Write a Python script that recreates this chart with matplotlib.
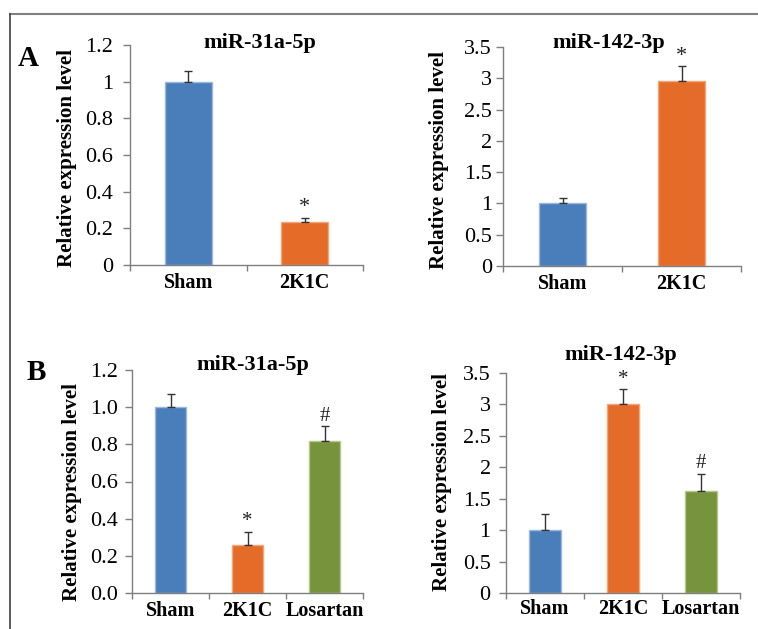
import matplotlib
matplotlib.use("Agg")
import matplotlib.pyplot as plt
import matplotlib.transforms as mtransforms
from matplotlib.lines import Line2D

plt.rcParams['font.family'] = ['Liberation Serif', 'DejaVu Serif']

W, H = 758, 629
DPI = 100

# ---- data ----
cats_a = ["Sham", "2K1C"]
cats_b = ["Sham", "2K1C", "Losartan"]

a31_vals = [1.0, 0.233]
a31_err = [0.058, 0.025]
a31_marks = ["", "*"]

a142_vals = [1.0, 2.96]
a142_err = [0.08, 0.23]
a142_marks = ["", "*"]

b31_vals = [1.0, 0.258, 0.82]
b31_err = [0.07, 0.072, 0.076]
b31_marks = ["", "*", "#"]

b142_vals = [1.0, 3.01, 1.62]
b142_err = [0.26, 0.23, 0.28]
b142_marks = ["", "*", "#"]

bar_colors = ["#4a7ebb", "#e46c28", "#77933c"]
edge_colors = ["#9bb8df", "#f2a67a", "#b3c98a"]

fig = plt.figure(figsize=(W / DPI, H / DPI), dpi=DPI)


def px_rect(x0, y0, x1, y1):
    return [x0 / W, 1 - y1 / H, (x1 - x0) / W, (y1 - y0) / H]


def fx(x):
    return x / W


def fy(y):
    return 1 - y / H


def panel(rect, cats, vals, errs, marks, ymax, ystep, yfmt, title, title_xy,
          ylab_xy, cat_y, mark_fs, ypad):
    ax = fig.add_axes(px_rect(*rect))
    n = len(cats)
    x = list(range(n))
    for i in x:
        ax.bar(i, vals[i], width=0.4, color=bar_colors[i],
               edgecolor=edge_colors[i], linewidth=1.0, zorder=2)
        ax.errorbar(i, vals[i], yerr=[[0], [errs[i]]], fmt='none',
                    ecolor='#333333', elinewidth=1.0, capsize=2.8,
                    capthick=1.0, zorder=3)
        if marks[i]:
            ax.text(i, vals[i] + errs[i] + ymax * 0.003, marks[i],
                    ha='center', va='bottom', fontsize=mark_fs,
                    color='#222222')
    ax.set_xlim(-0.5, n - 0.5)
    ax.set_ylim(0, ymax)
    ticks = []
    v = 0.0
    while v <= ymax + 1e-9:
        ticks.append(round(v, 3))
        v += ystep
    ax.set_yticks(ticks)
    ax.set_yticklabels([yfmt(t) for t in ticks], fontsize=16)
    ax.set_xticks([i - 0.5 for i in range(n + 1)])
    ax.set_xticklabels([])
    ax.tick_params(axis='x', direction='out', length=4, width=1,
                   color='#7f7f7f')
    ax.tick_params(axis='y', direction='out', length=5, width=1,
                   color='#7f7f7f', pad=ypad)
    for s in ['top', 'right']:
        ax.spines[s].set_visible(False)
    for s in ['left', 'bottom']:
        ax.spines[s].set_color('#7f7f7f')
        ax.spines[s].set_linewidth(1.0)
    tr = mtransforms.blended_transform_factory(ax.transData, fig.transFigure)
    for i, c in enumerate(cats):
        ax.text(i, fy(cat_y), c, transform=tr, ha='center', va='center',
                fontsize=14.5, fontweight='bold')
    fig.text(fx(title_xy[0]), fy(title_xy[1]), title, ha='center',
             va='center', fontsize=16, fontweight='bold')
    fig.text(fx(ylab_xy[0]), fy(ylab_xy[1]), "Relative expression level",
             rotation=90, ha='center', va='center', fontsize=15,
             fontweight='bold')
    return ax


def fmt_plain(t):
    return "%g" % t


def fmt_1dec(t):
    return "%.1f" % t


panel((130, 45, 363, 265), cats_a, a31_vals, a31_err, a31_marks, 1.2, 0.2,
      fmt_plain, "miR-31a-5p", (260, 43), (67, 158), 283, 16, 7)
panel((503, 47, 741, 266), cats_a, a142_vals, a142_err, a142_marks, 3.5, 0.5,
      fmt_plain, "miR-142-3p", (609, 43), (439, 160), 284, 16, 3)
panel((132, 370, 363, 593), cats_b, b31_vals, b31_err, b31_marks, 1.2, 0.2,
      fmt_1dec, "miR-31a-5p", (253, 365), (72, 492), 611, 15, 5)
panel((506, 373, 740, 593), cats_b, b142_vals, b142_err, b142_marks, 3.5, 0.5,
      fmt_plain, "miR-142-3p", (621, 355), (442, 482), 609, 15, 6)

fig.text(fx(28), fy(58), "A", ha='center', va='center', fontsize=21,
         fontweight='bold')
fig.text(fx(36), fy(372), "B", ha='center', va='center', fontsize=21,
         fontweight='bold')

# outer frame lines (top and left)
fig.add_artist(Line2D([fx(10), 1.0], [fy(13.5), fy(13.5)],
                      transform=fig.transFigure, color='#808080', lw=1.5))
fig.add_artist(Line2D([fx(10), fx(10)], [fy(13.5), 0.0],
                      transform=fig.transFigure, color='#404040', lw=1.2))

fig.savefig("out.png", dpi=DPI)
